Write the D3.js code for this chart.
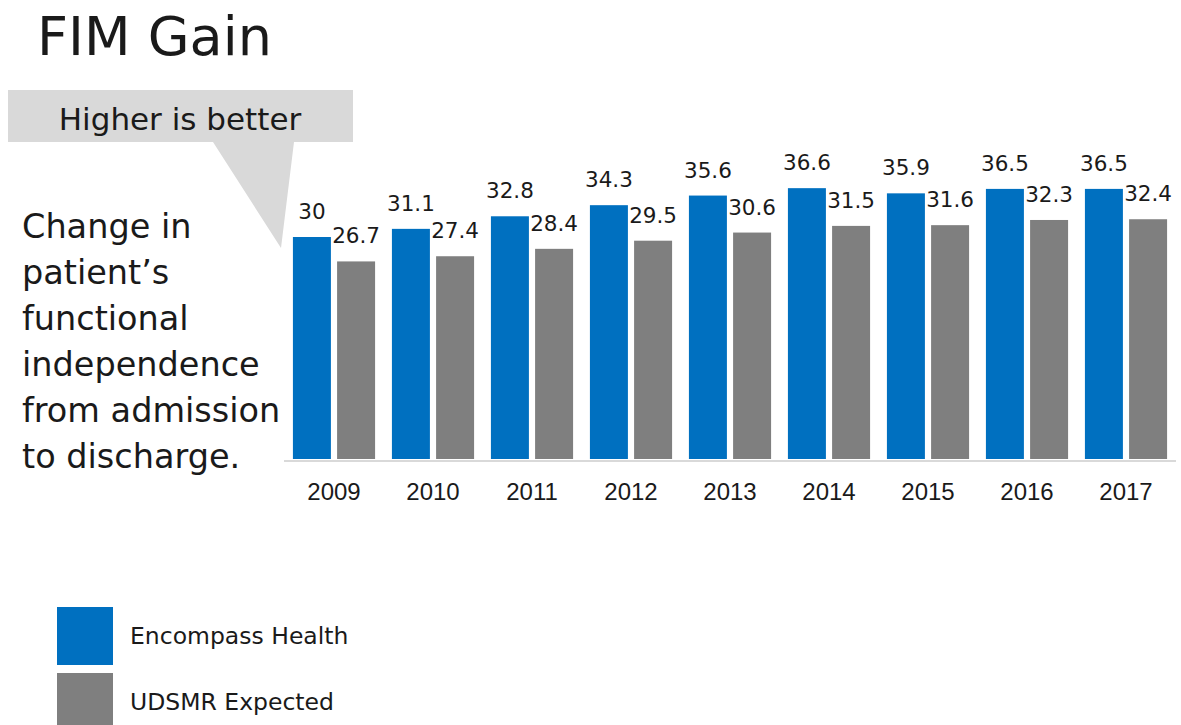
<!DOCTYPE html>
<html>
<head>
<meta charset="utf-8">
<script src="https://cdn.jsdelivr.net/npm/d3@7"></script>
<style>
  html, body { margin: 0; padding: 0; background: #ffffff; }
  svg { display: block; }
</style>
</head>
<body>
<svg id="chart" width="1181" height="725"></svg>
<script>
const years = ["2009","2010","2011","2012","2013","2014","2015","2016","2017"];
const encompass = [30, 31.1, 32.8, 34.3, 35.6, 36.6, 35.9, 36.5, 36.5];
const udsmr = [26.7, 27.4, 28.4, 29.5, 30.6, 31.5, 31.6, 32.3, 32.4];
const seriesNames = ["Encompass Health", "UDSMR Expected"];
const seriesColors = ["#0070C0", "#7F7F7F"];
const descLines = ["Change in", "patient\u2019s", "functional", "independence", "from admission", "to discharge."];

const svg = d3.select("#chart");
const font = "'DejaVu Sans', Verdana, sans-serif";

// Title
svg.append("text").attr("x", 37).attr("y", 55)
  .attr("font-family", font).attr("font-size", 54).attr("fill", "#1a1a1a")
  .text("FIM Gain");

// Callout box
svg.append("path")
  .attr("d", "M8,90 L353,90 L353,142 L294,142 L281,248 L213,142 L8,142 Z")
  .attr("fill", "#d9d9d9");
svg.append("text").attr("x", 180).attr("y", 130)
  .attr("text-anchor", "middle")
  .attr("font-family", font).attr("font-size", 31).attr("fill", "#1a1a1a")
  .text("Higher is better");

// Description
svg.append("g").selectAll("text").data(descLines).join("text")
  .attr("x", 22).attr("y", (d, i) => 238 + i * 46)
  .attr("font-family", font).attr("font-size", 33.5).attr("fill", "#1a1a1a")
  .text(d => d);

// Scales
const x0 = d3.scaleBand().domain(years).range([284.5, 1175.5])
  .paddingInner(0.17).paddingOuter(0.085);
const x1 = d3.scaleBand().domain([0, 1]).range([0, x0.bandwidth()]).paddingInner(0.14);
const y = d3.scaleLinear().domain([0, 40]).range([459, 459 - 7.4 * 40]);

// Axis baseline
svg.append("line").attr("x1", 284).attr("x2", 1176)
  .attr("y1", 461).attr("y2", 461)
  .attr("stroke", "#d9d9d9").attr("stroke-width", 2);

const data = years.map((yr, i) => ({ year: yr, vals: [encompass[i], udsmr[i]] }));

const groups = svg.append("g").selectAll("g").data(data).join("g")
  .attr("transform", d => `translate(${x0(d.year)},0)`);

groups.selectAll("rect").data(d => d.vals.map((v, k) => ({ v, k }))).join("rect")
  .attr("x", d => x1(d.k))
  .attr("width", x1.bandwidth())
  .attr("y", d => y(d.v))
  .attr("height", d => y(0) - y(d.v))
  .attr("fill", d => seriesColors[d.k]);

groups.selectAll("text.val").data(d => d.vals.map((v, k) => ({ v, k }))).join("text")
  .attr("class", "val")
  .attr("x", d => x1(d.k) + x1.bandwidth() / 2)
  .attr("y", d => y(d.v) - 18)
  .attr("text-anchor", "middle")
  .attr("font-family", font).attr("font-size", 21.5).attr("fill", "#1a1a1a")
  .text(d => d.v);

// X axis labels
const xAxis = d3.axisBottom(x0).tickSize(0).tickPadding(0);
const ax = svg.append("g").attr("transform", "translate(0,483)").call(xAxis);
ax.select(".domain").remove();
ax.selectAll("text")
  .attr("dy", "0.71em")
  .attr("font-family", "'Liberation Sans', Arial, sans-serif")
  .attr("font-size", 24).attr("fill", "#1a1a1a");

// Legend
const legend = svg.append("g").selectAll("g").data(seriesNames).join("g")
  .attr("transform", (d, i) => `translate(57,${607 + i * 66})`);
legend.append("rect").attr("width", 56).attr("height", 58)
  .attr("fill", (d, i) => seriesColors[i]);
legend.append("text").attr("x", 73).attr("y", 37)
  .attr("font-family", font).attr("font-size", 23.5).attr("fill", "#1a1a1a")
  .text(d => d);
</script>
</body>
</html>
